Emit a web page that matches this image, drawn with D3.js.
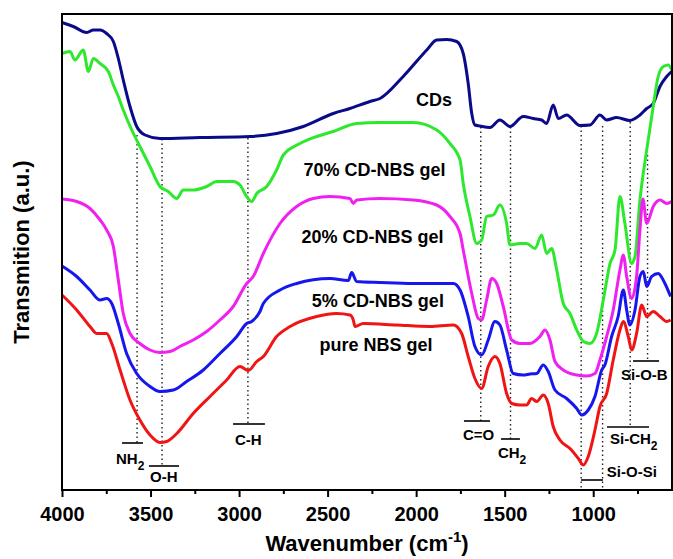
<!DOCTYPE html>
<html><head><meta charset="utf-8">
<script src="https://cdn.jsdelivr.net/npm/d3@7"></script>
<style>
html,body{margin:0;padding:0;background:#fff;}
text{font-family:"Liberation Sans",Arial,Helvetica,sans-serif;font-weight:bold;fill:#000;}
</style></head>
<body><svg id="c" width="673" height="559"></svg>
<script>
// ---- data: [wavenumber (cm-1), transmission (a.u.)] ----
const cds = [[4000,93.5],[3936,92.7],[3860,91.5],[3823,92.0],[3785,92.0],[3748,91.3],[3710,89.7],[3682,86.3],[3654,82.0],[3616,76.7],[3578,72.7],[3531,71.0],[3447,70.3],[3221,70.5],[2938,70.7],[2788,71.3],[2637,72.7],[2468,75.3],[2374,76.3],[2261,77.7],[2204,78.3],[2073,82.7],[1940,88.0],[1884,90.0],[1828,90.1],[1771,89.7],[1734,87.3],[1706,81.3],[1686,75.3],[1668,73.0],[1640,72.8],[1583,72.5],[1527,74.0],[1470,72.7],[1395,74.7],[1339,74.3],[1291,74.0],[1263,73.3],[1226,77.0],[1197,74.3],[1150,75.0],[1075,72.9],[1018,73.0],[962,75.0],[924,74.0],[868,74.5],[793,73.9],[736,75.0],[698,76.3],[661,77.3],[623,80.7],[585,82.7],[557,83.7]];
const gel70 = [[4000,87.3],[3955,87.7],[3927,86.0],[3880,88.0],[3851,83.7],[3823,86.3],[3785,85.3],[3738,83.7],[3710,81.0],[3682,78.7],[3654,76.0],[3606,72.0],[3560,68.7],[3503,64.7],[3447,60.7],[3400,59.7],[3352,58.3],[3315,60.0],[3259,60.0],[3183,60.7],[3126,61.7],[3033,61.7],[2995,61.0],[2957,58.7],[2929,57.7],[2900,59.3],[2844,60.7],[2788,64.0],[2750,67.0],[2656,69.3],[2562,70.7],[2468,71.7],[2336,73.3],[2204,73.5],[2016,73.5],[1884,72.0],[1809,69.3],[1752,66.0],[1734,61.3],[1696,54.7],[1658,49.3],[1630,50.0],[1602,54.7],[1564,55.0],[1527,57.0],[1489,53.3],[1470,49.0],[1414,49.3],[1376,49.3],[1329,48.3],[1291,51.0],[1263,47.3],[1235,48.3],[1206,44.0],[1169,37.3],[1131,35.3],[1093,32.0],[1056,29.7],[1018,29.3],[981,31.3],[943,38.0],[905,45.3],[877,48.0],[849,58.7],[821,53.3],[783,45.3],[764,46.7],[736,58.0],[698,68.0],[661,76.7],[633,82.7],[604,84.7],[576,85.0],[557,84.0]];
const gel20 = [[4000,58.2],[3917,57.7],[3842,56.3],[3785,54.0],[3748,52.0],[3710,48.7],[3682,42.0],[3654,35.3],[3616,31.3],[3560,29.3],[3503,28.0],[3447,27.5],[3390,27.7],[3334,28.7],[3259,30.0],[3183,31.7],[3108,34.0],[3033,36.7],[2957,41.3],[2920,42.7],[2863,47.3],[2769,53.3],[2675,56.7],[2581,58.3],[2487,58.7],[2374,58.3],[2355,57.3],[2336,58.0],[2204,58.3],[2016,58.0],[1884,57.0],[1809,54.7],[1752,51.3],[1734,48.0],[1686,39.3],[1649,34.3],[1630,34.0],[1602,38.0],[1573,42.3],[1545,41.3],[1508,36.7],[1460,30.0],[1414,29.3],[1357,29.3],[1301,30.7],[1272,32.0],[1244,30.0],[1216,25.7],[1169,24.0],[1093,23.0],[1037,22.8],[990,23.3],[962,26.0],[924,30.7],[887,36.0],[849,44.0],[830,47.0],[811,42.7],[783,38.3],[755,42.7],[736,52.0],[719,58.2],[698,53.3],[661,56.7],[623,58.0],[585,57.3],[557,57.7]];
const gel5 = [[4000,44.8],[3917,42.7],[3842,40.0],[3785,38.0],[3748,38.3],[3719,37.3],[3682,33.3],[3635,27.3],[3578,23.3],[3503,20.7],[3447,19.7],[3371,20.0],[3296,21.7],[3202,24.0],[3108,27.3],[3013,30.7],[2957,33.3],[2929,33.7],[2882,35.7],[2863,37.3],[2769,40.0],[2675,41.3],[2487,42.3],[2383,41.9],[2364,43.5],[2336,41.7],[2204,41.5],[2016,41.3],[1865,41.3],[1790,41.3],[1752,40.0],[1706,34.7],[1668,28.7],[1630,27.0],[1593,30.0],[1555,33.7],[1527,33.0],[1489,28.0],[1452,23.3],[1395,23.0],[1357,23.2],[1319,23.3],[1282,25.0],[1254,23.7],[1216,20.0],[1150,18.3],[1093,16.3],[1065,15.0],[1028,16.0],[990,18.7],[952,24.0],[934,25.0],[896,30.7],[859,34.7],[830,40.0],[811,36.0],[793,33.0],[764,36.0],[736,42.7],[717,43.7],[698,40.7],[670,42.7],[633,43.3],[595,41.3],[563,38.7]];
const pure = [[4000,39.0],[3917,36.0],[3842,32.7],[3804,31.3],[3748,31.3],[3719,29.3],[3672,24.0],[3616,18.0],[3560,14.0],[3503,11.0],[3447,9.5],[3409,9.7],[3352,11.3],[3259,15.3],[3164,18.7],[3070,22.0],[2995,24.7],[2948,23.9],[2900,25.7],[2863,26.7],[2788,30.7],[2712,32.7],[2562,34.7],[2449,35.3],[2374,35.0],[2355,34.0],[2345,32.7],[2299,33.3],[2110,33.0],[1922,32.7],[1790,33.0],[1743,31.3],[1706,26.7],[1668,22.3],[1630,20.3],[1593,24.7],[1555,26.7],[1527,25.3],[1489,19.3],[1460,17.3],[1414,17.0],[1376,17.0],[1348,18.3],[1319,17.7],[1282,19.0],[1254,17.3],[1226,12.7],[1188,10.0],[1131,8.3],[1084,6.3],[1056,5.0],[1028,6.7],[990,12.0],[962,16.7],[924,19.3],[887,26.0],[849,32.0],[830,33.7],[802,30.7],[783,28.0],[755,31.3],[726,37.0],[698,34.7],[661,35.7],[623,34.7],[585,33.7],[563,34.0]];

const seriesNames = ["CDs","70% CD-NBS gel","20% CD-NBS gel","5% CD-NBS gel","pure NBS gel"];
const seriesData = [cds, gel70, gel20, gel5, pure];
const seriesColors = ["#0b0b8a","#2ee82e","#f020f0","#1616ee","#f01414"];

const majorTicks = [4000,3500,3000,2500,2000,1500,1000];
const minorTicks = [3750,3250,2750,2250,1750,1250,750];

// peak markers: wavenumber, top and bottom of dotted line (a.u.)
const peakWn  = [3576, 3435, 2950, 1635, 1467, 1068, 947, 791, 693];
const peakTop = [71.0, 70.2, 70.4, 72.6, 72.6, 72.8, 72.8, 73.6, 67.0];
const peakBot = [9.4, 4.8, 13.2, 13.8, 10.2, 0.2, 0.2, 12.6, 26.0];

// assignment labels: text, subscript, bar from/to (cm-1), bar level, text left (cm-1), text baseline
const bandText = ["NH","O-H","C-H","C=O","CH","Si-O-Si","Si-CH","Si-O-B"];
const bandSub  = ["2","","","","2","","2",""];
const barFrom  = [3661, 3509, 3034, 1730, 1521, 1069, 922, 775];
const barTo    = [3543, 3339, 2854, 1583, 1414, 945, 685, 628];
const barLevel = [9.4, 4.8, 13.2, 13.8, 10.2, 2.0, 12.6, 25.8];
const textWn   = [3695, 3503, 3023, 1736, 1538, 923, 905, 843];
const textLvl  = [5.2, 1.6, 9.0, 10.0, 6.4, 2.6, 9.2, 22.0];

// series labels
const labelWn  = [1899, 2235, 2247, 2216, 2227];
const labelLvl = [76.9, 62.8, 49.4, 36.6, 27.8];

// ---- drawing ----
const svg = d3.select("#c");
const L=62, R=672, T=14, B=490;
const x = d3.scaleLinear().domain([4000,555]).range([L,R]);
const y = d3.scaleLinear().domain([0,95.2]).range([B,T]);

// dotted peak lines
svg.append("g").selectAll("line").data(peakWn).join("line")
  .attr("x1",d=>x(d)).attr("x2",d=>x(d))
  .attr("y1",(d,i)=>y(peakTop[i])).attr("y2",(d,i)=>y(peakBot[i]))
  .attr("stroke","#222").attr("stroke-width",1.4).attr("stroke-dasharray","1.5,3");

// curves
const line = d3.line().x(d=>x(d[0])).y(d=>y(d[1])).curve(d3.curveMonotoneX);
svg.append("g").selectAll("path").data(seriesData).join("path")
  .attr("d",d=>line(d.slice().reverse())).attr("fill","none")
  .attr("stroke",(d,i)=>seriesColors[i]).attr("stroke-width",3)
  .attr("stroke-linejoin","round");

// band bars & texts
const bg = svg.append("g");
bandText.forEach((t,i)=>{
  bg.append("line").attr("x1",x(barFrom[i])).attr("x2",x(barTo[i]))
    .attr("y1",y(barLevel[i])).attr("y2",y(barLevel[i]))
    .attr("stroke","#000").attr("stroke-width",1.6);
  const tx = bg.append("text").attr("x",x(textWn[i])).attr("y",y(textLvl[i]))
    .attr("font-size",15);
  tx.append("tspan").text(t);
  if(bandSub[i]) tx.append("tspan").attr("dy",6).attr("font-size",12).text(bandSub[i]);
});

// series labels
svg.append("g").selectAll("text").data(seriesNames).join("text")
  .attr("x",(d,i)=>x(labelWn[i])).attr("y",(d,i)=>y(labelLvl[i]))
  .attr("text-anchor","middle").attr("font-size",18).text(d=>d);

// frame
svg.append("rect").attr("x",L).attr("y",T).attr("width",R-L).attr("height",B-T)
  .attr("fill","none").attr("stroke","#000").attr("stroke-width",2);

// x axis
const ax = svg.append("g").attr("transform",`translate(0,${B})`)
  .call(d3.axisBottom(x).tickValues(majorTicks).tickSize(7).tickPadding(10).tickFormat(d3.format("d")));
ax.select(".domain").remove();
ax.selectAll("line").attr("stroke-width",2);
ax.selectAll("text").attr("font-size",20).attr("font-family","Liberation Sans, Arial, sans-serif").attr("font-weight","bold");
const axm = svg.append("g").attr("transform",`translate(0,${B})`)
  .call(d3.axisBottom(x).tickValues(minorTicks).tickSize(4).tickFormat(""));
axm.select(".domain").remove();
axm.selectAll("line").attr("stroke-width",2);

// axis titles
const xt = svg.append("text").attr("x",(L+R)/2).attr("y",551).attr("text-anchor","middle").attr("font-size",22);
xt.append("tspan").text("Wavenumber (cm");
xt.append("tspan").attr("dy",-9).attr("font-size",15).text("-1");
xt.append("tspan").attr("dy",9).text(")");

svg.append("text").attr("transform",`translate(29,${(T+B)/2}) rotate(-90)`)
  .attr("text-anchor","middle").attr("font-size",22).text("Transmition (a.u.)");
</script></body></html>
